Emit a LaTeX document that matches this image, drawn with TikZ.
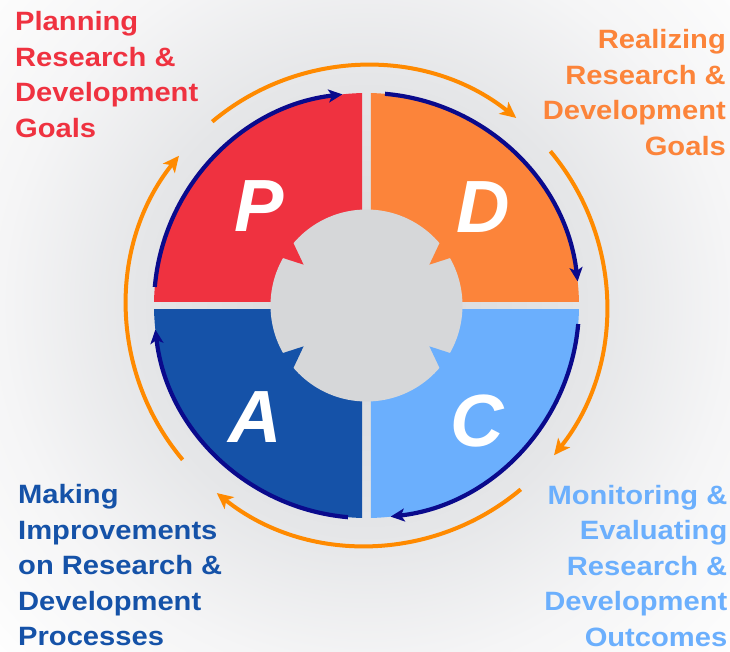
\documentclass[tikz,border=0pt]{standalone}
\usepackage{fontspec}
\setmainfont{Liberation Sans}
\newfontfamily\labelfont{Liberation Sans}[FakeStretch=1.1]
\usepackage{xcolor}
\usepackage{tikz}
\usetikzlibrary{arrows.meta}
\definecolor{planred}{RGB}{239,50,64}
\definecolor{doorange}{RGB}{252,132,58}
\definecolor{checkblue}{RGB}{107,175,253}
\definecolor{actblue}{RGB}{21,82,168}
\definecolor{cyclenavy}{RGB}{10,10,140}
\definecolor{cycleorange}{RGB}{255,138,0}
\definecolor{hubgray}{RGB}{214,215,217}
\definecolor{bgcore}{RGB}{214,215,217}
\definecolor{bgring}{RGB}{229,230,232}
\definecolor{bgmid}{RGB}{245,245,246}
\definecolor{bgedge}{RGB}{252,252,252}
\pgfdeclareradialshading{backdrop}{\pgfpoint{0bp}{0bp}}{color(0bp)=(bgcore); color(11bp)=(bgring); color(17.6bp)=(bgmid); color(23bp)=(bgedge); color(25bp)=(white); color(50bp)=(white)}
\tikzset{
    letter/.style={text=white, inner sep=0pt, font=\fontsize{74}{74}\selectfont\bfseries\itshape},
    phase/.style={inner sep=0pt, font=\labelfont\fontsize{26.5}{35.5}\selectfont\bfseries},
    navyarc/.style={line width=4.2pt, cyclenavy, -{Stealth[length=14pt, width=13pt, inset=3.5pt]}},
    orangearc/.style={line width=4pt, cycleorange, -{Stealth[length=16pt, width=15pt, inset=4pt]}}
}

\begin{document}
\begin{tikzpicture}[x=1pt, y=1pt]
    \useasboundingbox (-366.5,-345.5) rectangle (363.5,305.5);
    % Background
    \begin{scope}
        \clip (-366.5,-345.5) rectangle (363.5,305.5);
        \shade[shading=backdrop] (0,0) circle (520pt);
    \end{scope}

    % Quadrants
    \foreach \sx/\sy/\col in {-1/1/planred, 1/1/doorange, 1/-1/checkblue, -1/-1/actblue}{
        \begin{scope}
            \clip (4.3*\sx,4.3*\sy) rectangle (220*\sx,220*\sy);
            \fill[\col] (0,0) circle (212.5pt);
        \end{scope}
    }

    % Hub with teeth
    \fill[hubgray] (0,0) circle (96pt);
    \foreach \a/\b/\c/\col in {139/147/150.6/planred, 41/33/29.4/doorange, 221/213/209.4/actblue, 319/327/330.6/checkblue}
        \fill[\col] (\a:98pt) -- (\b:75pt) -- (\c:98pt) -- cycle;

    % Inner and outer cycle arrows
    \foreach \s in {175,85,-5,265}
        \draw[navyarc] (\s:212.5pt) arc[start angle=\s, end angle=\s-78.5, radius=212.5pt];
    \foreach \s in {130,40,-50,220}
        \draw[orangearc] (\s:240pt) arc[start angle=\s, end angle=\s-78.6, radius=240pt];

    % Letters
    \node[letter] (p) at (-107,99) {P};
    \node[letter] (d) at (117,98) {D};
    \node[letter] (c) at (111,-116) {C};
    \node[letter] (a) at (-111,-112) {A};

    % Phase labels
    \node[phase, text=planred, align=left, anchor=north west] (plan) at (-351.5,294) {Planning\\Research \&\\Development\\Goals};
    \node[phase, text=doorange, align=right, anchor=north east] (do) at (359.5,276) {Realizing\\Research \&\\Development\\Goals};
    \node[phase, text=checkblue, align=right, anchor=north east] (check) at (361,-179.5) {Monitoring \&\\Evaluating\\Research \&\\Development\\Outcomes};
    \node[phase, text=actblue, align=left, anchor=north west] (act) at (-348.5,-179) {Making\\Improvements\\on Research \&\\Development\\Processes};
\end{tikzpicture}
\end{document}
